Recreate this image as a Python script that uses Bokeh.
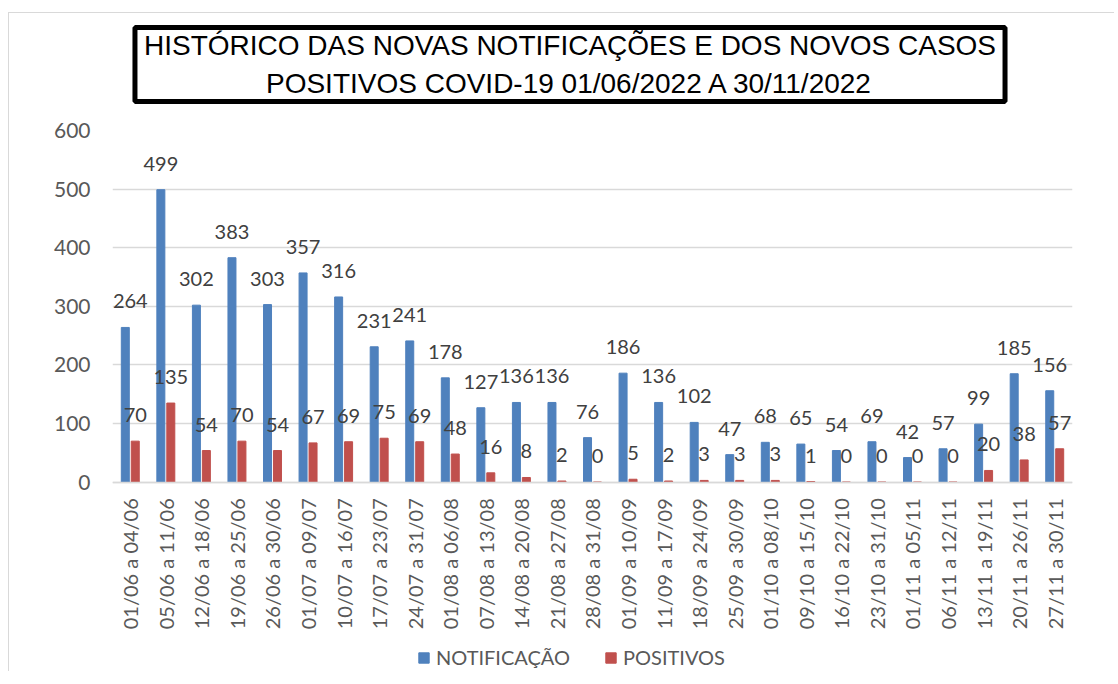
import math
from bokeh.plotting import figure
from bokeh.models import (ColumnDataSource, FactorRange, LabelSet, Label, Legend,
                          LegendItem, FixedTicker)
from bokeh.transform import dodge
from bokeh.core.properties import value
from bokeh.embed import file_html
from bokeh.resources import INLINE

categories = [
    "01/06 a 04/06", "05/06 a 11/06", "12/06 a 18/06", "19/06 a 25/06",
    "26/06 a 30/06", "01/07 a 09/07", "10/07 a 16/07", "17/07 a 23/07",
    "24/07 a 31/07", "01/08 a 06/08", "07/08 a 13/08", "14/08 a 20/08",
    "21/08 a 27/08", "28/08 a 31/08", "01/09 a 10/09", "11/09 a 17/09",
    "18/09 a 24/09", "25/09 a 30/09", "01/10 a 08/10", "09/10 a 15/10",
    "16/10 a 22/10", "23/10 a 31/10", "01/11 a 05/11", "06/11 a 12/11",
    "13/11 a 19/11", "20/11 a 26/11", "27/11 a 30/11",
]
notificacao = [264, 499, 302, 383, 303, 357, 316, 231, 241, 178, 127, 136, 136,
               76, 186, 136, 102, 47, 68, 65, 54, 69, 42, 57, 99, 185, 156]
positivos = [70, 135, 54, 70, 54, 67, 69, 75, 69, 48, 16, 8, 2,
             0, 5, 2, 3, 3, 3, 1, 0, 0, 0, 0, 20, 38, 57]
y_ticks = [0, 100, 200, 300, 400, 500, 600]
title_text = ("HISTÓRICO DAS NOVAS NOTIFICAÇÕES E DOS NOVOS CASOS\n"
              "POSITIVOS COVID-19 01/06/2022 A 30/11/2022")
series_names = ["NOTIFICAÇÃO", "POSITIVOS"]

BLUE = "#4f81bd"
RED = "#c0504d"

# keep the first label clear of the plot-area edge (as in the reference)
label_dx = [5 if i == 0 else 0 for i in range(len(categories))]

source = ColumnDataSource(data=dict(
    cat=categories,
    notif=notificacao,
    pos=positivos,
    notif_txt=[str(v) for v in notificacao],
    pos_txt=[str(v) for v in positivos],
    dx=label_dx,
))

# the plot area continues below the zero line so that the category labels and
# the legend sit inside it (the x axis is pinned at zero)
p = figure(
    x_range=FactorRange(*categories, range_padding=0),
    y_range=(-323, 600),
    frame_width=960, frame_height=541,
    output_backend="svg", toolbar_location=None,
    min_border_left=103, min_border_right=42, min_border_top=117,
    min_border_bottom=0,
)
p.styles = {"margin-left": "8px", "margin-top": "12px",
            "border-left": "1px solid #d9d9d9", "border-top": "1px solid #d9d9d9"}
p.outline_line_color = None
p.background_fill_color = "white"
p.border_fill_color = "white"

r1 = p.vbar(x=dodge("cat", -0.14, range=p.x_range), top="notif", width=0.225,
            source=source, fill_color=BLUE, line_color=BLUE)
r2 = p.vbar(x=dodge("cat", 0.14, range=p.x_range), top="pos", width=0.225,
            source=source, fill_color=RED, line_color=RED)

lab_font = value("Lato")
l1 = LabelSet(x=dodge("cat", -0.14, range=p.x_range), y="notif", text="notif_txt",
              source=source, text_align="center", text_baseline="alphabetic",
              x_offset="dx", y_offset=19, text_font=lab_font,
              text_font_size=value("20px"), text_color="#404040")
l2 = LabelSet(x=dodge("cat", 0.14, range=p.x_range), y="pos", text="pos_txt",
              source=source, text_align="center", text_baseline="alphabetic",
              y_offset=19, text_font=lab_font, text_font_size=value("20px"),
              text_color="#404040")
p.add_layout(l1)
p.add_layout(l2)

# axes
p.yaxis.ticker = FixedTicker(ticks=y_ticks)
p.yaxis.axis_line_color = None
p.yaxis.major_tick_line_color = None
p.yaxis.minor_tick_line_color = None
p.yaxis.major_tick_out = 0
p.yaxis.major_tick_in = 0
p.yaxis.minor_tick_out = 0
p.yaxis.major_label_standoff = 22
p.yaxis.major_label_text_font = "Lato"
p.yaxis.major_label_text_font_size = "21px"
p.yaxis.major_label_text_color = "#595959"

p.xaxis.fixed_location = 0
p.xaxis.axis_line_color = "#d9d9d9"
p.xaxis.axis_line_width = 1.5
p.xaxis.major_tick_line_color = None
p.xaxis.minor_tick_line_color = None
p.xaxis.major_tick_out = 0
p.xaxis.major_tick_in = 0
p.xaxis.minor_tick_out = 0
p.xaxis.axis_label_standoff = 0
p.xaxis.major_label_orientation = math.pi / 2
p.xaxis.major_label_standoff = 16
p.xaxis.major_label_text_font = "Lato"
p.xaxis.major_label_text_font_size = "20px"
p.xaxis.major_label_text_color = "#595959"

p.xgrid.grid_line_color = None
p.ygrid.grid_line_color = "#d9d9d9"
p.ygrid.grid_line_width = 1.5

# boxed title (in the panel above the frame)
title = Label(x=457.5, y=66, x_units="screen", y_units="screen",
              text=title_text, text_align="center", text_baseline="middle",
              text_font="Liberation Sans", text_font_size="28px",
              text_color="black", text_line_height=1.2,
              border_line_color="black", border_line_width=5,
              background_fill_color="white",
              padding=dict(left=9, right=9, top=3, bottom=3))
p.add_layout(title, "above")

# legend below the category labels (inside the plot area)
legend = Legend(items=[LegendItem(label=series_names[0], renderers=[r1]),
                       LegendItem(label=series_names[1], renderers=[r2])],
                orientation="horizontal", location=(305, 2),
                label_text_font="Lato", label_text_font_size="20px",
                label_text_color="#595959", glyph_width=13, glyph_height=13,
                label_standoff=6, spacing=34, border_line_color=None,
                background_fill_alpha=0, margin=0, padding=0)
p.add_layout(legend)

open("out.html", "w").write(file_html(p, INLINE))
